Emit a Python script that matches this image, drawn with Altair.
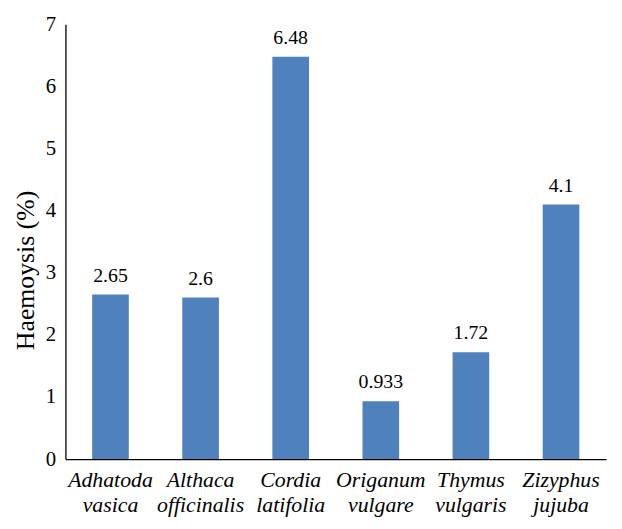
import altair as alt
import pandas as pd

species = ["Adhatoda vasica", "Althaca officinalis", "Cordia latifolia",
           "Origanum vulgare", "Thymus vulgaris", "Zizyphus jujuba"]
values = [2.65, 2.6, 6.48, 0.933, 1.72, 4.1]
labels = ["2.65", "2.6", "6.48", "0.933", "1.72", "4.1"]

df = pd.DataFrame({"species": species, "value": values, "label": labels})

FONT = "Liberation Serif"

x = alt.X("species:N", sort=species, title=None,
          scale=alt.Scale(paddingInner=0, paddingOuter=0),
          axis=alt.Axis(labelAngle=0, labelExpr="split(datum.label, ' ')",
                        labelFontStyle="italic", labelFontSize=22,
                        labelColor="#000", labelLineHeight=25, labelPadding=11,
                        ticks=False, domainColor="#000", domainWidth=1.3))
y = alt.Y("value:Q", title="Haemoysis (%)",
          scale=alt.Scale(domain=[0, 7], nice=False),
          axis=alt.Axis(values=[0, 1, 2, 3, 4, 5, 6, 7], grid=False, ticks=False,
                        labelFontSize=21, labelColor="#000",
                        labelPadding=10, titleFontSize=26, titleY=248,
                        titleFontWeight="normal", titleColor="#000", titlePadding=7,
                        domainColor="#000", domainWidth=1.3))

bars = alt.Chart(df).mark_bar(size=37, color="#4f81bd").encode(x=x, y=y)
text = alt.Chart(df).mark_text(baseline="bottom", dy=-9, fontSize=20,
                               color="#000").encode(x=x, y=y, text="label:N")

chart = (bars + text).properties(
    width=546, height=439,
    padding={"left": 58, "top": 14, "right": 8, "bottom": 60},
    autosize=alt.AutoSizeParams(type="none"),
).configure(font=FONT).configure_axis(labelFont=FONT, titleFont=FONT
).configure_text(font=FONT).configure_view(stroke=None)

chart.save("out.html", embed_options={"renderer": "svg", "actions": False})
